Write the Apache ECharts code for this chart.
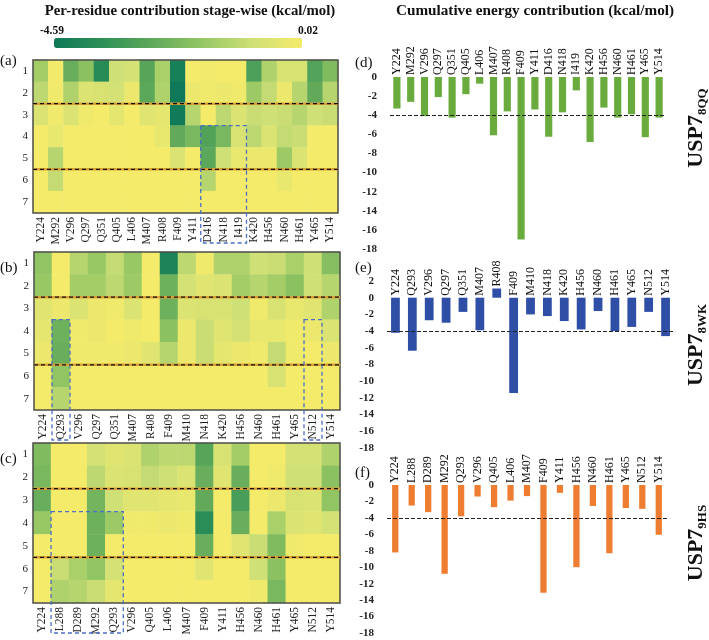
<!DOCTYPE html>
<html lang="en">
<head>
<meta charset="UTF-8">
<title>USP7 per-residue energy</title>
<script src="https://cdn.jsdelivr.net/npm/echarts@6/dist/echarts.min.js"></script>
<style>html,body{margin:0;padding:0;background:#fff}</style>
</head>
<body>
<div id="main" style="width:709px;height:640px;"></div>
<script>
// stages (rows of every heatmap)
var stages = ['1', '2', '3', '4', '5', '6', '7'];

// residues of each complex
var res8QQ = ['Y224','M292','V296','Q297','Q351','Q405','L406','M407','R408','F409','Y411','D416','N418','I419','K420','H456','N460','H461','Y465','Y514'];
var res8WK = ['Y224','Q293','V296','Q297','Q351','M407','R408','F409','M410','N418','K420','H456','N460','H461','Y465','N512','Y514'];
var res9HS = ['Y224','L288','D289','M292','Q293','V296','Q405','L406','M407','F409','Y411','H456','N460','H461','Y465','N512','Y514'];

// per-residue energy for stages 1..7 (one array per residue)
var heat8QQ = [
  [-1.6,-1.2,-0.6,0,0,0,0],
  [-0.05,-0.1,-0.1,-0.3,-1.3,-1.1,0],
  [-2.6,-1.4,-0.6,0,0,0,0],
  [-2.0,-0.6,-0.1,0,0,0,0],
  [-3.9,-0.7,0,0,0,0,0],
  [-0.9,-0.8,-0.4,0,0,0,0],
  [-0.8,-0.2,0,0,0,0,0],
  [-2.9,-2.8,-0.5,0,0,0,0],
  [-1.5,-1.4,-0.4,-0.3,0,0,0],
  [-4.3,-4.59,-4.5,-2.7,-0.6,0,0],
  [0,-0.2,-1.3,-2.3,0,0,0],
  [-0.1,-0.1,0,-3.0,-2.8,-1.3,0],
  [0,-0.2,-1.2,-2.3,-0.9,0,0],
  [0,-0.1,-0.6,-0.7,-0.3,0,0],
  [-3.1,-1.7,-1.0,-1.2,-0.2,0,0],
  [-1.4,-1.1,-0.9,-0.6,-0.2,0,0],
  [-0.7,-0.2,-1.0,-1.1,-1.7,-0.3,0],
  [-0.7,-1.3,-1.3,-1.0,-0.6,0,0],
  [-3.0,-2.7,-0.9,0,0,0,0],
  [-2.2,-1.3,-1.0,0,0,0,0]
];
var heat8WK = [
  [-1.9,-1.8,-0.5,-0.4,-0.2,0,0],
  [0,0,-0.2,-2.5,-2.6,-1.9,-1.3],
  [-1.3,-1.6,-0.6,-0.1,-0.1,0,0],
  [-1.8,-1.6,-0.2,-0.2,-0.1,0,0],
  [-1.1,-1.2,-0.1,0,-0.1,0,0],
  [-1.8,-1.7,-0.6,-0.1,-0.2,0,0],
  [0,0,0,0,-0.5,0,0],
  [-4.2,-2.5,-2.5,-2.0,-1.3,0,0],
  [-1.2,-0.8,-0.6,-0.2,-0.2,0,0],
  [-0.1,-0.5,-0.7,-1.0,-1.0,0,0],
  [-1.4,-0.6,-0.7,-0.5,-0.4,0,0],
  [-1.4,-1.6,-0.9,-0.8,-0.2,0,0],
  [-0.9,-1.3,-0.1,-0.3,-0.1,0,0],
  [-1.0,-1.6,-0.7,-0.3,-1.1,-0.7,0],
  [-1.5,-2.0,-0.3,-0.1,-0.1,0,0],
  [-0.9,-0.9,-0.5,-0.2,0,0,0],
  [-2.1,-1.3,-1.4,-0.6,-0.2,0,0]
];
var heat9HS = [
  [-2.2,-2.3,-2.6,-1.8,0,0,0],
  [0,0,0,0,0,-1.0,-1.4],
  [0,0,0,0,0,-1.5,-1.3],
  [-0.8,-1.2,-2.4,-2.5,-2.5,-1.9,-1.0],
  [-0.5,-0.6,-0.9,-1.7,0,-0.8,-0.4],
  [-0.6,-0.7,-0.5,-0.1,0,0,0],
  [-1.4,-1.1,-0.5,-0.1,0,0,0],
  [-1.2,-0.9,-0.4,-0.2,0,0,0],
  [-1.2,-0.6,-0.3,-0.1,0,0,0],
  [-2.9,-2.6,-2.7,-3.8,-2.6,-0.5,0],
  [-0.7,-0.5,0,0,0,0,0],
  [-1.6,-2.6,-3.2,-2.6,-0.5,0,0],
  [0,0,0,0,-1.0,-0.9,-0.1],
  [0,-0.1,-0.2,-1.5,-2.2,-2.0,-2.3],
  [-0.8,-0.9,-0.7,-0.6,-0.1,0,0],
  [-0.8,-0.9,-0.6,-0.5,0,0,0],
  [-1.4,-2.0,-1.9,-0.8,0,0,0]
];

// cumulative energy per residue
var cum8QQ = [-3.3,-2.6,-4.1,-2.1,-4.25,-1.8,-0.7,-6.1,-3.6,-17.0,-3.4,-6.25,-3.7,-1.4,-6.8,-3.2,-4.25,-3.9,-6.3,-4.25];
var cum8WK = [-4.2,-6.35,-2.7,-3.0,-1.7,-3.9,1.1,-11.4,-2.0,-2.2,-2.8,-3.8,-1.6,-4.0,-3.5,-1.7,-4.6];
var cum9HS = [-8.2,-2.5,-3.3,-10.8,-3.8,-1.4,-2.7,-1.9,-1.35,-13.1,-0.95,-10.0,-2.55,-8.3,-2.8,-2.9,-6.05];

var cutoff = -4;
var stageCuts = [2, 5];           // dashed lines after these stages
var boxes8QQ = [['D416', 'I419']]; // highlighted residues (from stage 4 on)
var boxes8WK = [['Q293', 'Q293'], ['N512', 'N512']];
var boxes9HS = [['L288', 'Q293']];

var serif = '"Liberation Serif", "DejaVu Serif", serif';

function cells(cols) {
  var out = [];
  cols.forEach(function (col, i) {
    col.forEach(function (v, j) { out.push([i, j, v]); });
  });
  return out;
}

var heatGrids = [
  {left: 33, top: 60, width: 305, height: 153},
  {left: 34, top: 252, width: 306, height: 158},
  {left: 33, top: 443, width: 307, height: 160}
];
var barGrids = [
  {left: 390, top: 77, width: 276, height: 172},
  {left: 387, top: 281, width: 287, height: 167},
  {left: 387, top: 485, width: 280, height: 148}
];

var heatSets = [[res8QQ, heat8QQ], [res8WK, heat8WK], [res9HS, heat9HS]];
var barSets = [
  [res8QQ, cum8QQ, '#6aab3e', 0, '52%'],
  [res8WK, cum8WK, '#2f4ea6', 2, '52%'],
  [res9HS, cum9HS, '#ee7d31', 0, '38%']
];

var xAxes = [], yAxes = [], series = [];
heatSets.forEach(function (s, i) {
  xAxes.push({
    type: 'category', gridIndex: i, data: s[0],
    axisLine: {show: false}, axisTick: {show: false},
    axisLabel: {rotate: 90, interval: 0, margin: 4, fontFamily: serif, fontSize: 11.5, color: '#222'}
  });
  yAxes.push({
    type: 'category', gridIndex: i, data: stages, inverse: true,
    axisLine: {show: false}, axisTick: {show: false},
    axisLabel: {margin: 5, fontFamily: serif, fontSize: 11, color: '#222'}
  });
  series.push({
    type: 'heatmap', xAxisIndex: i, yAxisIndex: i, data: cells(s[1]),
    itemStyle: {borderWidth: 0}, emphasis: {disabled: true}
  });
});
barSets.forEach(function (s, i) {
  var k = i + 3;
  xAxes.push({
    type: 'category', gridIndex: k, data: s[0],
    axisLine: {show: false}, axisTick: {show: false}, axisLabel: {show: false}
  });
  yAxes.push({
    type: 'value', gridIndex: k, min: -18, max: s[3], interval: 2,
    splitLine: {show: false}, axisLine: {show: false}, axisTick: {show: false},
    axisLabel: {margin: 13, fontFamily: serif, fontSize: 11, fontWeight: 'bold', color: '#222'}
  });
  series.push({
    type: 'bar', xAxisIndex: k, yAxisIndex: k, data: s[1], barWidth: s[4],
    itemStyle: {color: s[2]},
    label: {
      show: true, position: 'top', rotate: 90, align: 'left', verticalAlign: 'middle',
      distance: 2, formatter: '{b}', fontFamily: serif, fontSize: 12, color: '#111'
    },
    markLine: {
      silent: true, symbol: 'none', data: [{yAxis: cutoff}],
      label: {show: false}, lineStyle: {type: 'dashed', color: '#222', width: 1}
    }
  });
});

function txt(t, x, y, size, opts) {
  opts = opts || {};
  return {
    type: 'text', x: x, y: y, z: 20, rotation: opts.rot || 0,
    style: {
      text: t, fontFamily: serif, fontSize: size, fontWeight: opts.bold ? 'bold' : 'normal',
      fill: '#111', align: opts.align || 'left', verticalAlign: 'middle', rich: opts.rich
    }
  };
}
function uspLabel(sub, y) {
  return txt('{a|USP7}{b|' + sub + '}', 696, y, 22, {
    bold: true, align: 'center', rot: Math.PI / 2,
    rich: {
      a: {fontFamily: serif, fontSize: 22, fontWeight: 'bold', lineHeight: 26},
      b: {fontFamily: serif, fontSize: 13, fontWeight: 'bold', lineHeight: 26, verticalAlign: 'bottom'}
    }
  });
}

var labels = [
  txt('Per-residue contribution stage-wise (kcal/mol)', 190, 11, 14.8, {bold: true, align: 'center'}),
  txt('Cumulative energy contribution (kcal/mol)', 535, 11, 15.2, {bold: true, align: 'center'}),
  txt('-4.59', 40, 31, 11.5, {bold: true}),
  txt('0.02', 318, 31, 11.5, {bold: true, align: 'right'}),
  txt('(a)', 0, 61, 15), txt('(b)', 0, 268, 15), txt('(c)', 0, 459, 15),
  txt('(d)', 355, 63, 15), txt('(e)', 355, 268, 15), txt('(f)', 355, 473, 15),
  uspLabel('8QQ', 128), uspLabel('8WK', 345), uspLabel('9HS', 543)
];

var chart = echarts.init(document.getElementById('main'));
chart.setOption({
  animation: false,
  grid: heatGrids.concat(barGrids),
  xAxis: xAxes,
  yAxis: yAxes,
  visualMap: {
    type: 'continuous', min: -4.59, max: 0.02, seriesIndex: [0, 1, 2],
    orient: 'horizontal', left: 54, top: 38, itemWidth: 10, itemHeight: 248,
    padding: 0, calculable: false, hoverLink: false,
    inRange: {color: ['#0e7858', '#2f9157', '#5fa95a', '#96c764', '#cfe076', '#f5eb6a']}
  },
  series: series,
  graphic: labels
});

// frames, stage separators and highlight boxes, placed through the axes
var overlays = [];
var boxSets = [boxes8QQ, boxes8WK, boxes9HS];
heatSets.forEach(function (s, i) {
  var res = s[0];
  var n = res.length;
  var px = function (name) { return chart.convertToPixel({xAxisIndex: i}, name); };
  var py = function (name) { return chart.convertToPixel({yAxisIndex: i}, name); };
  var bw = (px(res[n - 1]) - px(res[0])) / (n - 1);
  var bh = (py(stages[6]) - py(stages[0])) / 6;
  var x0 = px(res[0]) - bw / 2, x1 = px(res[n - 1]) + bw / 2;
  var y0 = py(stages[0]) - bh / 2, y1 = py(stages[6]) + bh / 2;
  overlays.push({
    type: 'rect', z: 30, shape: {x: x0, y: y0, width: x1 - x0, height: y1 - y0},
    style: {fill: 'none', stroke: '#4d4d4d', lineWidth: 1.5}
  });
  stageCuts.forEach(function (c) {
    var y = (py(stages[c - 1]) + py(stages[c])) / 2;
    overlays.push({type: 'line', z: 31, shape: {x1: x0, y1: y, x2: x1, y2: y},
      style: {stroke: '#d9a037', lineWidth: 2.5}});
    overlays.push({type: 'line', z: 32, shape: {x1: x0, y1: y, x2: x1, y2: y},
      style: {stroke: '#111', lineWidth: 1.3, lineDash: [4, 3]}});
  });
  boxSets[i].forEach(function (b) {
    var bx0 = px(b[0]) - bw / 2, bx1 = px(b[1]) + bw / 2;
    var by0 = py('4') - bh / 2, by1 = y1 + 30;
    overlays.push({
      type: 'rect', z: 33, shape: {x: bx0, y: by0, width: bx1 - bx0, height: by1 - by0},
      style: {fill: 'none', stroke: '#4b6fc4', lineWidth: 1.3, lineDash: [4, 3]}
    });
  });
});
chart.setOption({graphic: labels.concat(overlays)});
</script>
</body>
</html>
